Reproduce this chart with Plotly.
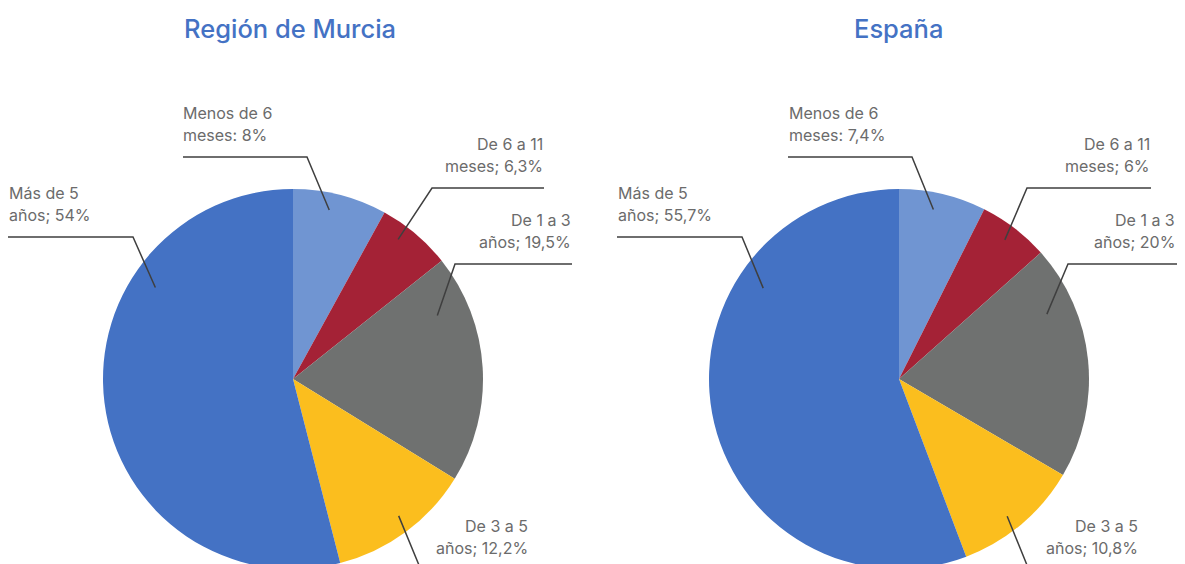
import math
import plotly.graph_objects as go

W, H = 1185, 564
PAGE_OFFSET = 8  # page body margin

# ---- data ----
categories = ["Menos de 6 meses", "De 6 a 11 meses", "De 1 a 3 años", "De 3 a 5 años", "Más de 5 años"]
label_first = ["Menos de 6", "De 6 a 11", "De 1 a 3", "De 3 a 5", "Más de 5"]
label_second = ["meses", "meses", "años", "años", "años"]
separators = [":", ";", ";", ";", ";"]
murcia_values = [8, 6.3, 19.5, 12.2, 54]
espana_values = [7.4, 6, 20, 10.8, 55.7]
titles = ["Región de Murcia", "España"]

colors = ["#7095D2", "#A42236", "#6F7170", "#FBBE1E", "#4472C4"]
title_color = "#4472C4"
text_color = "#6B6B6B"
line_color = "#3F3F3F"

# ---- layout (screen pixel positions) ----
R = 190
centers = [(293, 379), (899, 379)]
title_pos = [(290, 28), (898, 28)]
# per pie: (text_x, align, hline_y, elbow_x, end_x)
label_layout = [
    [(182, "left", 157, 307, 183), (544, "right", 188, 432, 544), (572, "right", 264, 455, 572),
     (529, "right", 570, 421, 529), (8, "left", 237, 133, 8)],
    [(788, "left", 157, 912, 788), (1151, "right", 188, 1027, 1151), (1176, "right", 264, 1068, 1185),
     (1139, "right", 570, 1029, 1139), (617, "left", 237, 742, 617)],
]
# anchor point inside slice: (fraction of slice angle, fraction of radius)
anchor_style = [
    [(0.42, 0.91), (0.36, 0.92), (0.21, 0.83), (0.47, 0.91), (0.71, 0.87)],
    [(0.43, 0.91), (0.49, 0.92), (0.25, 0.85), (0.55, 0.92), (0.72, 0.86)],
]


def px(x):
    return (x - PAGE_OFFSET) / W


def py(y):
    return 1 - (y - PAGE_OFFSET) / H


def fmt(v):
    return f"{v:g}".replace(".", ",") + "%"


fig = go.Figure()
annotations = []
shapes = []

for k, values in enumerate([murcia_values, espana_values]):
    cx, cy = centers[k]
    fig.add_trace(go.Pie(
        labels=categories, values=values, sort=False, direction="clockwise", rotation=0,
        marker=dict(colors=colors, line=dict(width=0)),
        textinfo="none", hoverinfo="label+percent", showlegend=False,
        domain=dict(x=[px(cx - R), px(cx + R)], y=[max(0, py(cy + R)), py(cy - R)]),
    ))
    annotations.append(dict(
        text=titles[k], x=px(title_pos[k][0]), y=py(title_pos[k][1]), xref="paper", yref="paper",
        xanchor="center", yanchor="middle", showarrow=False,
        font=dict(family="Inter", size=25.5, color=title_color, weight=500),
    ))
    total = sum(values)
    start = 0.0
    for i, v in enumerate(values):
        span = v / total * 360.0
        frac, rf = anchor_style[k][i]
        ang = math.radians(start + frac * span)
        ax = cx + rf * R * math.sin(ang)
        ay = cy - rf * R * math.cos(ang)
        start += span
        tx, align, hy, ex, endx = label_layout[k][i]
        shapes.append(dict(
            type="path", xref="paper", yref="paper",
            path=f"M {px(ax)} {py(ay)} L {px(ex)} {py(hy)} L {px(endx)} {py(hy)}",
            line=dict(color=line_color, width=1.5),
        ))
        lines = [label_first[i], f"{label_second[i]}{separators[i]} {fmt(v)}"]
        for j, t in enumerate(lines):
            annotations.append(dict(
                text=t, x=px(tx), y=py(hy - 44 + 22 * j), xref="paper", yref="paper",
                xanchor=align, yanchor="middle", showarrow=False, borderpad=0,
                font=dict(family="Inter", size=16, color=text_color),
            ))

fig.update_layout(
    width=W, height=H, margin=dict(l=0, r=0, t=0, b=0),
    paper_bgcolor="white", plot_bgcolor="white",
    annotations=annotations, shapes=shapes,
)
fig.write_html("out.html")
